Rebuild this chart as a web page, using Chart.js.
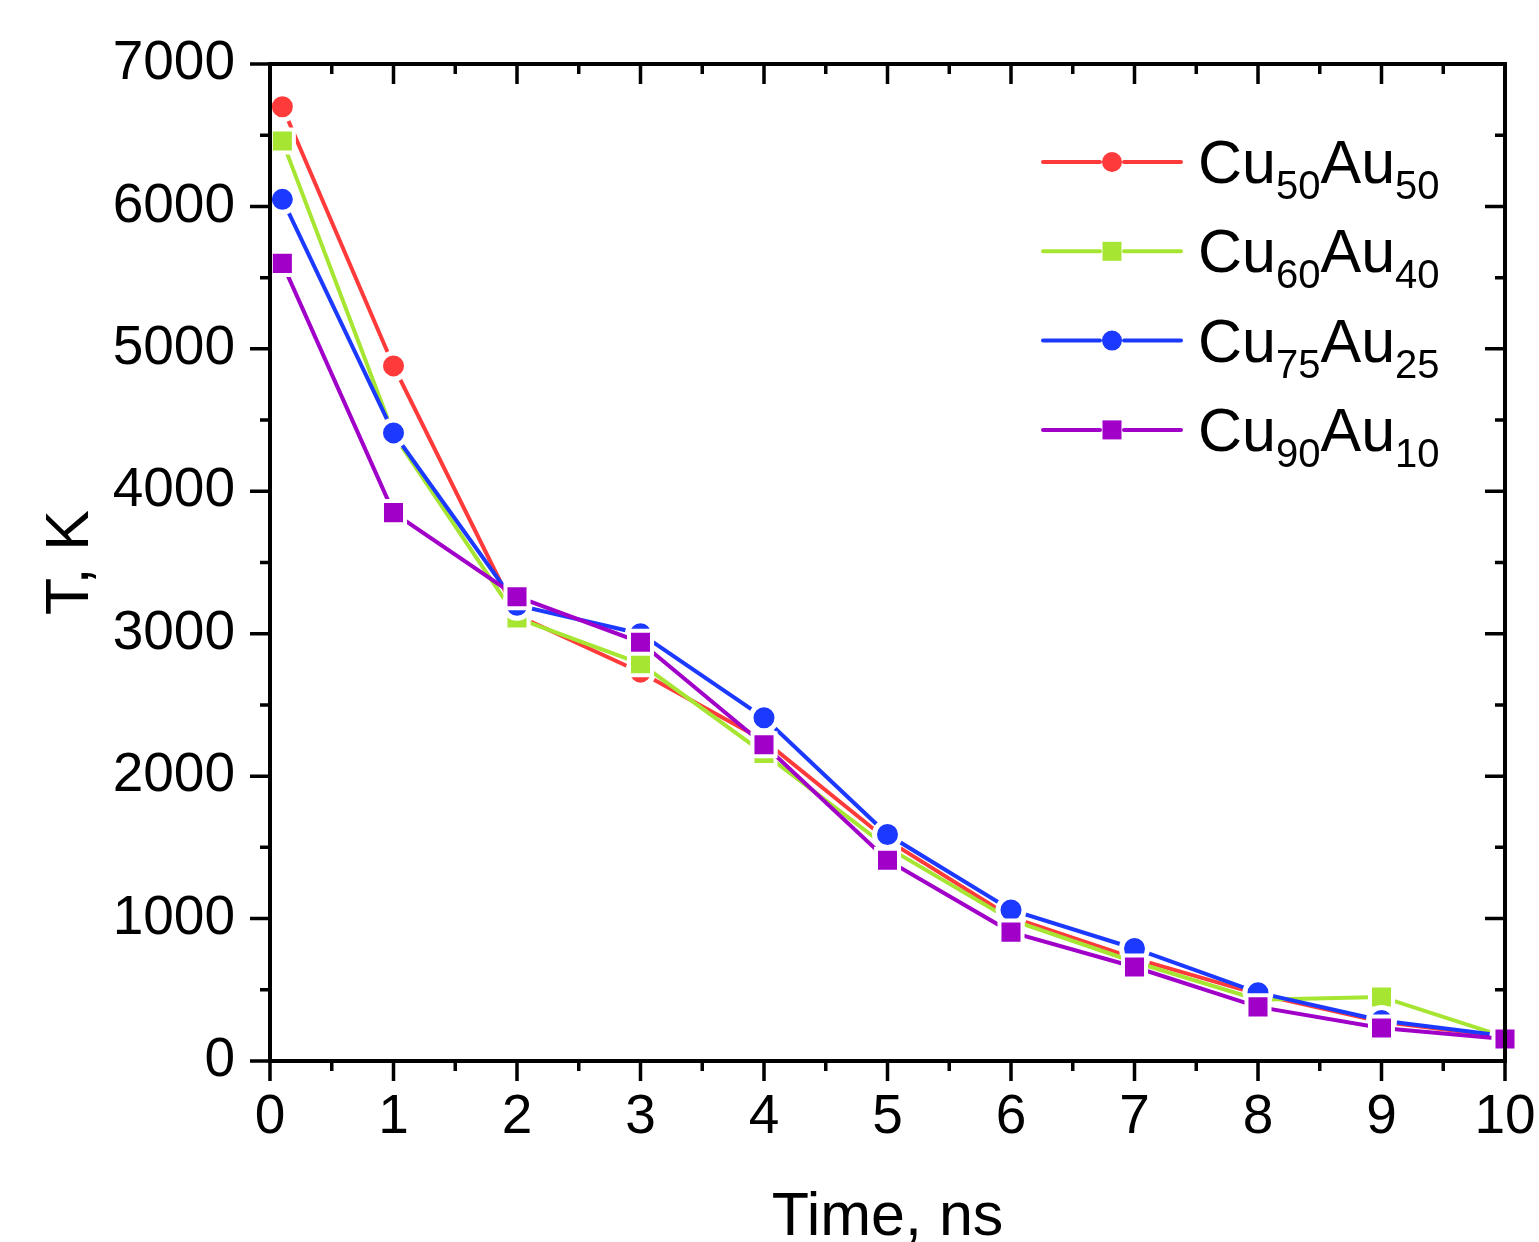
<!DOCTYPE html>
<html>
<head>
<meta charset="utf-8">
<title>T vs time</title>
<script src="https://cdn.jsdelivr.net/npm/chart.js@4.4.0/dist/chart.umd.min.js"></script>
<style>
  html, body { margin: 0; padding: 0; background: #fff; }
  #wrap { width: 1539px; height: 1242px; }
</style>
</head>
<body>
<div id="wrap"><canvas id="temp-chart" width="1539" height="1242"></canvas></div>
<script>
"use strict";

// values
const times = [0.1, 1, 2, 3, 4, 5, 6, 7, 8, 9, 10];
const cu50au50 = [6700, 4880, 3130, 2730, 2250, 1550, 1010, 720, 470, 275, 170];
const cu60au40 = [6460, 4400, 3110, 2790, 2160, 1500, 990, 695, 430, 450, 170];
const cu75au25 = [6050, 4410, 3200, 3000, 2410, 1590, 1060, 790, 480, 285, 175];
const cu90au10 = [5600, 3850, 3260, 2940, 2220, 1410, 905, 660, 380, 232, 155];

const xTicks = [0, 1, 2, 3, 4, 5, 6, 7, 8, 9, 10];
const yTicks = [0, 1000, 2000, 3000, 4000, 5000, 6000, 7000];

const FONT = "'Liberation Sans', Arial, sans-serif";

// legend entries: [base, sub1, base2, sub2]
const series = [
  { name: ["Cu", "50", "Au", "50"], data: cu50au50, color: "rgb(255,58,58)", marker: "circle" },
  { name: ["Cu", "60", "Au", "40"], data: cu60au40, color: "rgb(166,230,50)", marker: "rect" },
  { name: ["Cu", "75", "Au", "25"], data: cu75au25, color: "rgb(28,58,255)", marker: "circle" },
  { name: ["Cu", "90", "Au", "10"], data: cu90au10, color: "rgb(160,0,200)", marker: "rect" },
];

function toPoints(values) {
  return times.map((t, i) => ({ x: t, y: values[i] }));
}

const datasets = series.map((s, i) => ({
  label: s.name.join(""),
  data: toPoints(s.data),
  borderColor: s.color,
  borderWidth: 4,
  backgroundColor: s.color,
  pointStyle: s.marker,
  pointRadius: s.marker === "circle" ? 13 : 16.3,
  pointBorderWidth: s.marker === "circle" ? 5 : 4,
  pointBorderColor: "#fff",
  pointBackgroundColor: s.color,
  tension: 0,
  clip: false,
  order: series.length - 1 - i,
}));

// frame, in/out ticks and axis titles
const framePlugin = {
  id: "frame",
  afterDatasetsDraw(chart) {
    const { ctx, chartArea: a, scales } = chart;
    const x = scales.x, y = scales.y;
    ctx.save();
    ctx.strokeStyle = "#000";
    ctx.lineWidth = 4;
    ctx.lineCap = "square";
    ctx.strokeRect(a.left, a.top, a.right - a.left, a.bottom - a.top);
    ctx.lineCap = "butt";
    ctx.lineWidth = 3.5;
    ctx.beginPath();
    for (let v = 0; v <= 10; v += 0.5) {
      const px = x.getPixelForValue(v);
      const len = Number.isInteger(v) ? 20 : 10;
      ctx.moveTo(px, a.bottom);
      ctx.lineTo(px, a.bottom + len);
      ctx.moveTo(px, a.top);
      ctx.lineTo(px, a.top + len);
    }
    for (let v = 0; v <= 7000; v += 500) {
      const py = y.getPixelForValue(v);
      const len = v % 1000 === 0 ? 20 : 10;
      ctx.moveTo(a.left, py);
      ctx.lineTo(a.left - len, py);
      ctx.moveTo(a.right, py);
      ctx.lineTo(a.right - len, py);
    }
    ctx.stroke();

    ctx.fillStyle = "#000";
    ctx.font = "61px " + FONT;
    ctx.textAlign = "center";
    ctx.textBaseline = "alphabetic";
    ctx.fillText("Time, ns", (a.left + a.right) / 2, 1235);
    ctx.save();
    ctx.translate(88, (a.top + a.bottom) / 2);
    ctx.rotate(-Math.PI / 2);
    ctx.fillText("T, K", 0, 0);
    ctx.restore();
    ctx.restore();
  },
  afterDraw(chart) {
    // legend with subscripts
    const { ctx } = chart;
    ctx.save();
    series.forEach((s, i) => {
      const cy = 162 + i * 89.3;
      const mx = 1112;
      ctx.strokeStyle = s.color;
      ctx.lineWidth = 4;
      ctx.lineCap = "round";
      ctx.beginPath();
      ctx.moveTo(1043, cy);
      ctx.lineTo(1100, cy);
      ctx.moveTo(1124, cy);
      ctx.lineTo(1181, cy);
      ctx.stroke();
      ctx.fillStyle = s.color;
      if (s.marker === "circle") {
        ctx.beginPath();
        ctx.arc(mx, cy, 10, 0, Math.PI * 2);
        ctx.fill();
      } else {
        ctx.fillRect(mx - 9.5, cy - 9.5, 19, 19);
      }
      ctx.fillStyle = "#000";
      ctx.textAlign = "left";
      ctx.textBaseline = "alphabetic";
      let tx = 1198;
      const base = cy + 21;
      s.name.forEach((part, k) => {
        const sub = k % 2 === 1;
        ctx.font = (sub ? "40px " : "61px ") + FONT;
        ctx.fillText(part, tx, sub ? base + 16 : base);
        tx += ctx.measureText(part).width;
      });
    });
    ctx.restore();
  },
};

function renderChart(canvasId) {
  const ctx = document.getElementById(canvasId).getContext("2d");
  return new Chart(ctx, {
    type: "line",
    data: { datasets: datasets },
    options: {
      responsive: false,
      animation: false,
      devicePixelRatio: 1,
      layout: { padding: { top: 64, right: 34, left: 0, bottom: 0 } },
      plugins: { legend: { display: false }, tooltip: { enabled: false } },
      scales: {
        x: {
          type: "linear",
          min: 0,
          max: 10,
          afterBuildTicks(scale) { scale.ticks = xTicks.map(v => ({ value: v })); },
          afterFit(scale) {
            scale.height = 181;
            scale.paddingLeft = 0;
            scale.paddingRight = 0;
          },
          grid: { display: false, drawTicks: false },
          border: { display: false },
          ticks: { color: "#000", font: { size: 55, family: FONT }, padding: 24, maxRotation: 0, autoSkip: false },
        },
        y: {
          type: "linear",
          min: 0,
          max: 7000,
          afterBuildTicks(scale) { scale.ticks = yTicks.map(v => ({ value: v })); },
          afterFit(scale) {
            scale.width = 270;
            scale.paddingTop = 0;
            scale.paddingBottom = 0;
          },
          grid: { display: false, drawTicks: false },
          border: { display: false },
          ticks: {
            color: "#000",
            font: { size: 55, family: FONT },
            padding: 35,
            autoSkip: false,
            callback: (v) => String(v),
          },
        },
      },
    },
    plugins: [framePlugin],
  });
}

const tempChart = renderChart("temp-chart");
</script>
</body>
</html>
